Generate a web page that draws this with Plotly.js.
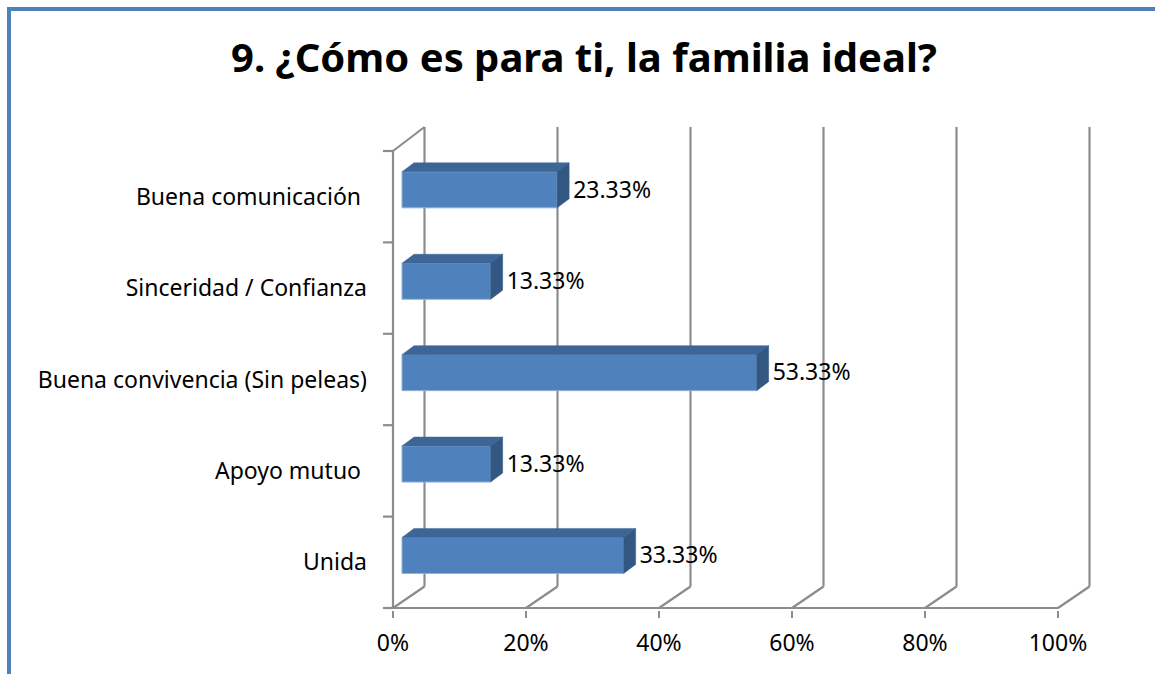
<!DOCTYPE html>
<html><head><meta charset="utf-8">
<script src="https://cdn.plot.ly/plotly-3.0.1.min.js"></script>
<style>html,body{margin:0;padding:0;background:#fff;} #chart{width:1155px;height:674px;}</style>
</head><body><div id="chart"></div>
<script>
// ---- data ----
const categories = ["Unida", "Apoyo mutuo\u00a0", "Buena convivencia (Sin peleas)", "Sinceridad / Confianza", "Buena comunicación\u00a0"];
const values = [33.33, 13.33, 53.33, 13.33, 23.33];
const valueLabels = ["33.33%", "13.33%", "53.33%", "13.33%", "23.33%"];
const xTickVals = [0, 20, 40, 60, 80, 100];
const xTickText = ["0%", "20%", "40%", "60%", "80%", "100%"];
const titleText = "9. ¿Cómo es para ti, la familia ideal?";

// ---- geometry (pixels -> axis units) ----
const W = 1155, H = 674;
const ML = 382, MR = 60, MT = 120, MB = 64;
const PX_X = 6.65, X0PX = 393;          // px per % , pixel of 0%
const PX_Y = 91.4, Y0PX = 608;          // px per category, pixel of floor
const pw = W - ML - MR, ph = H - MT - MB;
const xmin = (ML - X0PX) / PX_X, xmax = xmin + pw / PX_X;
const ymin = -((H - MB) - Y0PX) / PX_Y, ymax = ymin + ph / PX_Y;

const DXW = 31.5 / PX_X, DYW = 21.5 / PX_Y;     // wall depth
const BACKTOP = (Y0PX - 127) / PX_Y, FRONTTOP = categories.length;
const D1 = 9 / PX_X;                             // bar front offset
const BX = 12 / PX_X, BY = 9 / PX_Y;             // bar depth
const BOFF = 0.075, BH = 36 / PX_Y;              // bar centre shift, height
const LBLDX = 4 / PX_X, LBLDY = -2 / PX_Y;       // label nudge

const gridColor = '#8c8c8c';
const segs = [];
segs.push([0, 0, 0, FRONTTOP]);
segs.push([0, FRONTTOP, DXW, BACKTOP]);
segs.push([0, 0, 100, 0]);
xTickVals.forEach(v => {
  segs.push([v + DXW, DYW, v + DXW, BACKTOP]);
  segs.push([v, 0, v + DXW, DYW]);
});
for (let k = 0; k <= categories.length; k++) segs.push([-1.5, k, 0, k]);
const shapes = segs.map(s => ({
  type: 'line', xref: 'x', yref: 'y', layer: 'below',
  x0: s[0], y0: s[1], x1: s[2], y1: s[3],
  line: {color: gridColor, width: 2.2}
}));
// outer frame
const px2paperX = px => (px - ML) / pw;
const px2paperY = py => ((H - MB) - py) / ph;
shapes.push({type: 'rect', xref: 'paper', yref: 'paper',
  x0: px2paperX(9), x1: px2paperX(1175), y0: px2paperY(700), y1: px2paperY(9),
  line: {color: '#4F81BD', width: 4}, fillcolor: 'rgba(0,0,0,0)', layer: 'above'});

const yc = categories.map((c, i) => i + 0.5 + BOFF);
const traces = [];
traces.push({
  type: 'bar', orientation: 'h', x: values, y: yc, base: D1, width: BH,
  marker: {color: '#4F81BD', line: {color: '#8db0dc', width: 1}},
  hoverinfo: 'skip'
});
values.forEach((v, i) => {
  const yt = yc[i] + BH / 2, yb = yc[i] - BH / 2;
  const xl = D1, xr = D1 + v;
  traces.push({type: 'scatter', mode: 'lines', fill: 'toself', fillcolor: '#3d6697',
    line: {width: 0.5, color: '#3d6697'},
    x: [xl, xl + BX, xr + BX, xr, xl], y: [yt, yt + BY, yt + BY, yt, yt], hoverinfo: 'skip'});
  traces.push({type: 'scatter', mode: 'lines', fill: 'toself', fillcolor: '#325783',
    line: {width: 0.5, color: '#325783'},
    x: [xr, xr + BX, xr + BX, xr, xr], y: [yt, yt + BY, yb + BY, yb, yt], hoverinfo: 'skip'});
});
traces.push({
  type: 'scatter', mode: 'text', x: values.map(v => D1 + v + BX + LBLDX), y: yc.map(y => y + LBLDY),
  text: valueLabels, textposition: 'middle right', cliponaxis: false,
  textfont: {family: 'Noto Sans', size: 23, color: '#000'}, hoverinfo: 'skip'
});

const layout = {
  width: W, height: H,
  margin: {l: ML, r: MR, t: MT, b: MB},
  paper_bgcolor: '#fff', plot_bgcolor: '#fff',
  showlegend: false, hovermode: false,
  title: {text: titleText, xref: 'container', yref: 'container',
    x: 584 / W, xanchor: 'center', y: 1 - 58 / H, yanchor: 'middle',
    font: {family: 'Noto Sans', size: 40, weight: 'bold', color: '#000'}},
  xaxis: {range: [xmin, xmax], showgrid: false, zeroline: false, showline: false,
    tickmode: 'array', tickvals: xTickVals, ticktext: xTickText,
    ticks: 'outside', ticklen: 7, tickwidth: 2, tickcolor: gridColor, ticklabelstandoff: 5,
    tickfont: {family: 'Noto Sans', size: 23, color: '#000'}},
  yaxis: {range: [ymin, ymax], showgrid: false, zeroline: false, showline: false,
    tickmode: 'array', tickvals: categories.map((c, i) => i + 0.5), ticktext: categories,
    ticks: '', ticklabelstandoff: 14,
    tickfont: {family: 'Noto Sans', size: 23, color: '#000'}},
  shapes: shapes
};
Plotly.newPlot('chart', traces, layout, {staticPlot: true, displayModeBar: false});
</script>
</body></html>
